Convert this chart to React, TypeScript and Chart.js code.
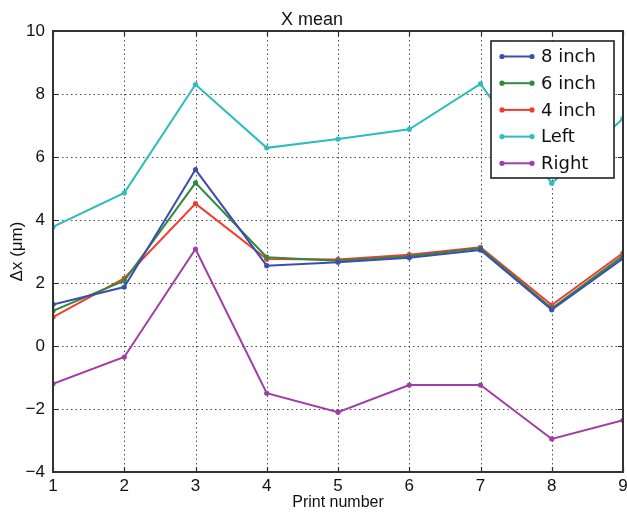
import React, { useEffect, useRef } from "react";
import { Chart, registerables } from "chart.js";

Chart.register(...registerables);

// Print number on the x axis
const printNumbers = [1, 2, 3, 4, 5, 6, 7, 8, 9];

// Mean x offset (µm) per print for each measurement set
const inch8 = [1.32, 1.87, 5.6, 2.55, 2.66, 2.8, 3.05, 1.15, 2.78];
const inch6 = [1.12, 2.07, 5.18, 2.82, 2.71, 2.85, 3.1, 1.2, 2.86];
const inch4 = [0.92, 2.15, 4.52, 2.76, 2.75, 2.9, 3.13, 1.3, 2.95];
const leftSide = [3.78, 4.86, 8.3, 6.29, 6.57, 6.88, 8.32, 5.17, 7.22];
const rightSide = [-1.2, -0.35, 3.08, -1.5, -2.1, -1.24, -1.24, -2.95, -2.36];

const seriesNames = ["8 inch", "6 inch", "4 inch", "Left", "Right"];
const seriesValues = [inch8, inch6, inch4, leftSide, rightSide];
const seriesColors = ["#3d4db0", "#2e8a3c", "#f23c2c", "#2fbcbc", "#a23ca8"];

const xMin = 1;
const xMax = 9;
const yMin = -4;
const yMax = 10;
const yStep = 2;

const titleText = "X mean";
const xTitle = "Print number";
const yTitle = "\u0394x (\u03bcm)";

const axisFont = "'Liberation Sans', Arial, sans-serif";
const legendFont = "'DejaVu Sans', sans-serif";

const fmt = (v: number) => (v < 0 ? "\u2212" + Math.abs(v) : String(v));

// Dotted grid, dark frame and inward tick marks on all four sides
const framePlugin = {
  id: "frameAndGrid",
  beforeDatasetsDraw(chart: any) {
    const { ctx, chartArea: a, scales } = chart;
    const x = scales.x;
    const y = scales.y;
    ctx.save();
    ctx.strokeStyle = "rgba(0,0,0,0.7)";
    ctx.lineWidth = 1;
    ctx.setLineDash([1.5, 3]);
    x.ticks.forEach((t: any) => {
      const px = Math.round(x.getPixelForValue(t.value)) + 0.5;
      ctx.beginPath();
      ctx.moveTo(px, a.top);
      ctx.lineTo(px, a.bottom);
      ctx.stroke();
    });
    y.ticks.forEach((t: any) => {
      const py = Math.round(y.getPixelForValue(t.value)) + 0.5;
      ctx.beginPath();
      ctx.moveTo(a.left, py);
      ctx.lineTo(a.right, py);
      ctx.stroke();
    });
    ctx.restore();
  },
  afterDatasetsDraw(chart: any) {
    const { ctx, chartArea: a, scales } = chart;
    const x = scales.x;
    const y = scales.y;
    const len = 5;
    ctx.save();
    ctx.strokeStyle = "#2b2b2b";
    ctx.lineWidth = 1.2;
    x.ticks.forEach((t: any) => {
      const px = Math.round(x.getPixelForValue(t.value)) + 0.5;
      ctx.beginPath();
      ctx.moveTo(px, a.bottom);
      ctx.lineTo(px, a.bottom - len);
      ctx.moveTo(px, a.top);
      ctx.lineTo(px, a.top + len);
      ctx.stroke();
    });
    y.ticks.forEach((t: any) => {
      const py = Math.round(y.getPixelForValue(t.value)) + 0.5;
      ctx.beginPath();
      ctx.moveTo(a.left, py);
      ctx.lineTo(a.left + len, py);
      ctx.moveTo(a.right, py);
      ctx.lineTo(a.right - len, py);
      ctx.stroke();
    });
    ctx.strokeStyle = "#333";
    ctx.lineWidth = 2;
    ctx.strokeRect(a.left, a.top, a.right - a.left, a.bottom - a.top);
    ctx.restore();
  },
};

// Boxed legend in the upper right of the plot, line + end markers per series
const legendPlugin = {
  id: "boxLegend",
  afterDraw(chart: any) {
    const { ctx, chartArea: a } = chart;
    const w = 123;
    const h = 137;
    const bx = a.right - 9 - w;
    const by = a.top + 10;
    ctx.save();
    ctx.fillStyle = "#ffffff";
    ctx.fillRect(bx, by, w, h);
    ctx.strokeStyle = "#222";
    ctx.lineWidth = 1.6;
    ctx.strokeRect(bx, by, w, h);
    ctx.font = `18px ${legendFont}`;
    ctx.textBaseline = "middle";
    ctx.textAlign = "left";
    chart.data.datasets.forEach((ds: any, i: number) => {
      const cy = by + 15.5 + i * 26.7;
      const x0 = bx + 11;
      const x1 = bx + 41;
      ctx.strokeStyle = ds.borderColor;
      ctx.lineWidth = 2;
      ctx.beginPath();
      ctx.moveTo(x0, cy);
      ctx.lineTo(x1, cy);
      ctx.stroke();
      ctx.fillStyle = ds.borderColor;
      [x0, x1].forEach((px) => {
        ctx.beginPath();
        ctx.arc(px, cy, 2.6, 0, Math.PI * 2);
        ctx.fill();
      });
      ctx.fillStyle = "#111";
      ctx.fillText(ds.label, bx + 50, cy + 1);
    });
    ctx.restore();
  },
};

export default function App() {
  const canvasRef = useRef<HTMLCanvasElement | null>(null);

  useEffect(() => {
    const canvas = canvasRef.current;
    if (!canvas) return;
    const chart = new Chart(canvas, {
      type: "line",
      data: {
        datasets: seriesNames.map((name, i) => ({
          label: name,
          data: printNumbers.map((p, j) => ({ x: p, y: seriesValues[i][j] })),
          borderColor: seriesColors[i],
          backgroundColor: seriesColors[i],
          borderWidth: 2,
          pointRadius: 2.6,
          pointBorderWidth: 0,
          pointBackgroundColor: seriesColors[i],
          tension: 0,
          fill: false,
        })),
      },
      options: {
        animation: false,
        responsive: false,
        devicePixelRatio: 1,
        layout: { padding: { left: 0, right: 3, top: 0, bottom: 0 } },
        plugins: {
          legend: { display: false },
          tooltip: { enabled: false },
          title: {
            display: true,
            text: titleText,
            color: "#111",
            font: { family: axisFont, size: 18, weight: "normal", lineHeight: 1.2 },
            padding: { top: 9, bottom: 0.4 },
          },
        },
        scales: {
          x: {
            type: "linear",
            min: xMin,
            max: xMax,
            grid: { display: false, drawTicks: false },
            border: { display: false },
            ticks: {
              stepSize: 1,
              padding: 4,
              color: "#111",
              maxRotation: 0,
              autoSkip: false,
              font: { family: axisFont, size: 17 },
              callback: (v: any) => fmt(Number(v)),
            },
            title: {
              display: true,
              text: xTitle,
              color: "#111",
              font: { family: axisFont, size: 16, lineHeight: 1.2 },
              padding: { top: 0, bottom: 3 },
            },
            afterFit: (s: any) => {
              s.height = 43;
              s.paddingLeft = 0;
              s.paddingRight = 0;
            },
          },
          y: {
            type: "linear",
            min: yMin,
            max: yMax,
            grid: { display: false, drawTicks: false },
            border: { display: false },
            ticks: {
              stepSize: yStep,
              padding: 8,
              color: "#111",
              autoSkip: false,
              font: { family: axisFont, size: 17 },
              callback: (v: any) => fmt(Number(v)),
            },
            title: {
              display: true,
              text: yTitle,
              color: "#111",
              font: { family: axisFont, size: 17, lineHeight: 1.2 },
              padding: { top: 7, bottom: 0 },
            },
            afterFit: (s: any) => {
              s.width = 53;
              s.paddingTop = 0;
              s.paddingBottom = 0;
            },
          },
        },
      },
      plugins: [framePlugin, legendPlugin],
    } as any);
    return () => chart.destroy();
  }, []);

  return (
    <div style={{ position: "absolute", left: 0, top: 0, width: 627, height: 515, background: "#fff" }}>
      <canvas ref={canvasRef} width={627} height={515} />
    </div>
  );
}
